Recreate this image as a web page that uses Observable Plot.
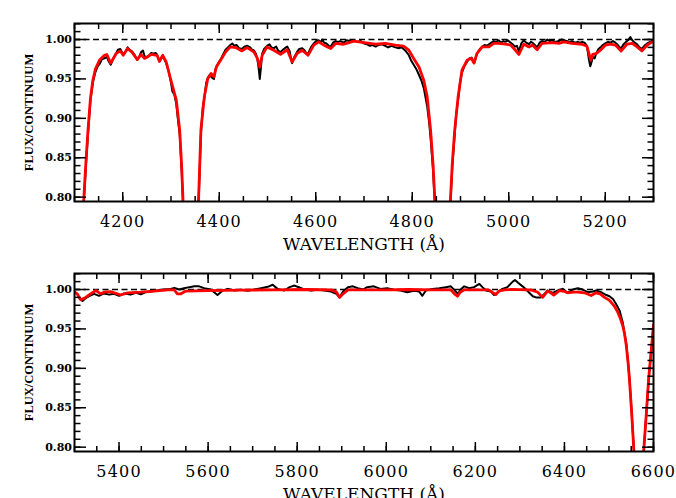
<!DOCTYPE html>
<html><head><meta charset="utf-8">
<script src="https://cdn.jsdelivr.net/npm/d3@7"></script>
<script src="https://cdn.jsdelivr.net/npm/@observablehq/plot@0.6"></script>
<style>
body{margin:0;background:#fff}
#chart svg{display:block;overflow:visible}
#chart g[aria-label="x-axis tick label"] text{letter-spacing:1.2px}
</style>
</head><body><div id="chart"></div>
<script>
// ---- Panel 1 (4100-5300 Å): model (red) and observed (black) as [wavelength, flux]
const topModel = [
[4100,0.58],[4108,0.67],[4114,0.74],[4119,0.795],[4124,0.848],[4128,0.885],[4133,0.925],[4138,0.948],[4143,0.962],[4152,0.974],[4162,0.980],[4167,0.981],[4175,0.970],[4186,0.982],[4195,0.9855],[4201,0.980],[4210,0.9886],[4219,0.984],[4230,0.9746],[4238,0.981],[4245,0.976],[4259,0.981],[4271,0.980],[4276,0.9724],[4283,0.980],[4290,0.9715],[4300,0.948],[4311,0.923],[4318,0.885],[4322,0.84],[4325,0.795],[4330,0.72],[4340,0.62],[4350,0.72],[4357,0.795],[4362,0.885],[4369,0.927],[4376,0.950],[4383,0.957],[4389,0.9525],[4394,0.965],[4404,0.975],[4413,0.984],[4423,0.9906],[4434,0.9898],[4447,0.9855],[4458,0.9898],[4472,0.984],[4479,0.976],[4484,0.965],[4489,0.980],[4499,0.9906],[4513,0.9864],[4527,0.9813],[4541,0.987],[4551,0.9715],[4561,0.982],[4572,0.9864],[4584,0.980],[4596,0.9928],[4606,0.997],[4617,0.9928],[4631,0.9886],[4641,0.995],[4658,0.994],[4679,0.998],[4700,0.996],[4724,0.994],[4744,0.995],[4765,0.9928],[4782,0.9915],[4793,0.9864],[4803,0.976],[4814,0.965],[4824,0.948],[4831,0.927],[4838,0.885],[4843,0.843],[4847,0.795],[4855,0.68],[4862,0.60],[4870,0.68],[4879,0.795],[4883,0.843],[4888,0.885],[4895,0.927],[4903,0.961],[4914,0.974],[4923,0.976],[4928,0.970],[4934,0.982],[4945,0.9906],[4959,0.9906],[4969,0.995],[4979,0.995],[4993,0.994],[5004,0.993],[5013,0.987],[5021,0.981],[5031,0.994],[5042,0.9906],[5049,0.993],[5059,0.987],[5069,0.995],[5090,0.996],[5104,0.995],[5114,0.997],[5131,0.995],[5152,0.994],[5162,0.9915],[5170,0.9737],[5174,0.981],[5181,0.982],[5190,0.9864],[5200,0.9928],[5211,0.994],[5221,0.993],[5233,0.9855],[5245,0.994],[5256,0.995],[5266,0.9906],[5276,0.9855],[5287,0.993],[5300,0.998]
];
const topObs = [
[4100,0.57],[4108,0.66],[4114,0.735],[4119,0.79],[4124,0.843],[4128,0.88],[4133,0.922],[4138,0.945],[4143,0.958],[4148,0.966],[4152,0.969],[4157,0.975],[4162,0.976],[4167,0.978],[4171,0.972],[4175,0.968],[4180,0.975],[4186,0.982],[4190,0.987],[4195,0.988],[4199,0.983],[4203,0.982],[4207,0.986],[4210,0.990],[4214,0.987],[4219,0.985],[4224,0.981],[4230,0.974],[4234,0.978],[4238,0.984],[4242,0.986],[4245,0.979],[4250,0.977],[4255,0.980],[4259,0.983],[4264,0.982],[4268,0.983],[4271,0.981],[4276,0.972],[4280,0.976],[4283,0.979],[4287,0.974],[4290,0.970],[4295,0.960],[4300,0.945],[4303,0.934],[4307,0.930],[4311,0.918],[4315,0.895],[4318,0.88],[4322,0.835],[4325,0.79],[4330,0.71],[4340,0.61],[4350,0.71],[4357,0.79],[4362,0.88],[4366,0.915],[4369,0.925],[4373,0.945],[4376,0.951],[4380,0.955],[4383,0.953],[4386,0.951],[4389,0.950],[4392,0.962],[4396,0.968],[4400,0.972],[4404,0.976],[4408,0.981],[4413,0.987],[4418,0.990],[4423,0.993],[4427,0.995],[4431,0.992],[4436,0.993],[4441,0.989],[4447,0.988],[4452,0.991],[4458,0.992],[4464,0.990],[4468,0.987],[4472,0.986],[4476,0.982],[4479,0.975],[4482,0.962],[4484,0.950],[4486,0.962],[4489,0.982],[4493,0.988],[4499,0.992],[4504,0.994],[4508,0.990],[4513,0.989],[4518,0.991],[4522,0.986],[4527,0.984],[4532,0.987],[4536,0.989],[4541,0.991],[4546,0.985],[4549,0.975],[4551,0.970],[4555,0.977],[4561,0.984],[4566,0.988],[4572,0.989],[4577,0.986],[4580,0.983],[4584,0.982],[4590,0.990],[4596,0.995],[4601,0.998],[4606,0.999],[4611,0.997],[4614,1.000],[4617,0.996],[4622,0.995],[4627,0.992],[4631,0.991],[4636,0.996],[4641,0.998],[4646,0.997],[4651,0.998],[4658,0.996],[4664,0.999],[4670,0.998],[4679,0.999],[4686,0.997],[4693,0.998],[4700,0.995],[4706,0.994],[4712,0.992],[4718,0.993],[4724,0.991],[4730,0.993],[4737,0.994],[4744,0.992],[4750,0.990],[4757,0.992],[4765,0.990],[4772,0.989],[4778,0.990],[4782,0.988],[4787,0.985],[4793,0.980],[4798,0.973],[4803,0.968],[4808,0.963],[4814,0.955],[4819,0.948],[4824,0.938],[4828,0.925],[4831,0.915],[4835,0.895],[4838,0.875],[4843,0.835],[4847,0.79],[4855,0.67],[4862,0.59],[4870,0.67],[4879,0.79],[4883,0.838],[4888,0.880],[4891,0.905],[4895,0.923],[4899,0.945],[4903,0.958],[4908,0.966],[4914,0.972],[4918,0.976],[4923,0.977],[4926,0.972],[4929,0.971],[4934,0.982],[4939,0.987],[4945,0.991],[4950,0.993],[4955,0.992],[4959,0.994],[4964,0.996],[4969,0.998],[4974,0.997],[4979,0.999],[4984,0.996],[4989,0.998],[4993,0.997],[4998,0.999],[5004,0.996],[5008,0.994],[5013,0.991],[5017,0.992],[5021,0.985],[5026,0.995],[5031,0.999],[5036,0.996],[5042,0.994],[5046,0.997],[5049,0.996],[5054,0.993],[5059,0.990],[5064,0.996],[5069,0.998],[5075,0.997],[5080,1.000],[5085,0.998],[5090,0.999],[5096,0.997],[5104,0.998],[5109,1.000],[5114,0.999],[5120,0.998],[5126,0.997],[5131,0.998],[5137,0.996],[5143,0.997],[5148,0.996],[5152,0.997],[5157,0.996],[5162,0.992],[5166,0.975],[5169,0.966],[5172,0.972],[5174,0.978],[5178,0.976],[5181,0.982],[5186,0.988],[5190,0.990],[5195,0.993],[5200,0.995],[5206,0.997],[5211,0.996],[5216,0.998],[5221,0.996],[5226,0.993],[5230,0.990],[5233,0.989],[5238,0.994],[5243,0.997],[5247,0.999],[5252,1.003],[5256,0.999],[5261,0.996],[5266,0.994],[5271,0.990],[5276,0.988],[5281,0.992],[5287,0.995],[5293,0.997],[5300,0.999]
];
// ---- Panel 2 (5300-6600 Å)
const botModel = [
[5299,0.9974],[5306,0.9945],[5314,0.987],[5325,0.990],[5336,0.9945],[5348,0.9987],[5359,0.9945],[5366,0.9966],[5381,0.9974],[5404,0.993],[5419,0.9958],[5449,0.9966],[5479,0.998],[5509,0.9996],[5524,0.9996],[5531,0.9945],[5539,0.9945],[5550,0.998],[5599,0.9987],[5674,0.9992],[5749,0.9996],[5824,1.000],[5876,0.9996],[5888,0.997],[5895,0.990],[5903,0.9945],[5914,0.9996],[5950,0.9995],[6000,0.9995],[6050,1.000],[6100,0.9996],[6145,0.9996],[6153,0.9945],[6160,0.9915],[6166,0.9966],[6175,0.9996],[6200,0.9996],[6230,0.9996],[6240,0.9958],[6246,0.9936],[6253,0.998],[6265,0.9996],[6280,1.000],[6300,0.9998],[6325,0.9994],[6340,0.9966],[6351,0.990],[6362,0.998],[6370,0.9955],[6376,0.993],[6389,0.9987],[6400,0.9975],[6407,0.9958],[6420,0.9966],[6430,0.9966],[6445,0.9958],[6460,0.9923],[6471,0.9958],[6480,0.9945],[6490,0.990],[6500,0.9868],[6505,0.9838],[6512,0.979],[6520,0.971],[6526,0.9626],[6531,0.954],[6535,0.9435],[6539,0.9286],[6543,0.907],[6546,0.886],[6551,0.8436],[6556,0.795],[6562,0.70],[6567,0.68],[6572,0.72],[6578,0.795],[6584,0.8436],[6589,0.886],[6596,0.929],[6600,0.955]
];
const botObs = [
[5299,0.9966],[5306,0.9945],[5312,0.988],[5318,0.9855],[5325,0.989],[5333,0.9915],[5344,0.9945],[5355,0.992],[5366,0.995],[5378,0.9935],[5389,0.9945],[5400,0.992],[5411,0.995],[5426,0.9935],[5438,0.9958],[5449,0.994],[5460,0.9966],[5471,0.9975],[5486,0.9987],[5501,1.000],[5516,1.0008],[5524,1.002],[5535,1.000],[5546,1.0017],[5558,1.003],[5569,1.004],[5580,1.004],[5591,1.0017],[5606,1.000],[5621,0.993],[5633,0.9987],[5644,1.0008],[5659,0.9987],[5674,0.9996],[5689,0.9983],[5704,1.000],[5719,1.0017],[5734,1.0034],[5745,1.006],[5756,1.0008],[5771,0.9987],[5783,1.003],[5794,1.005],[5805,1.0025],[5816,1.000],[5831,0.9987],[5846,0.9996],[5861,0.9987],[5876,0.9974],[5888,0.9945],[5895,0.990],[5903,0.9974],[5914,1.003],[5925,1.004],[5936,1.0017],[5948,1.000],[5957,1.003],[5972,1.004],[5987,1.0008],[6002,1.0017],[6017,0.9996],[6032,0.9987],[6047,0.9966],[6062,0.9983],[6074,0.9974],[6081,0.992],[6089,0.9987],[6104,1.0008],[6119,1.0017],[6134,1.003],[6145,1.004],[6156,0.9974],[6161,0.9945],[6167,1.000],[6175,1.004],[6186,1.0017],[6197,1.003],[6209,1.007],[6216,1.003],[6224,0.9987],[6235,0.9974],[6242,0.993],[6250,0.9966],[6261,1.0008],[6272,1.003],[6284,1.010],[6289,1.012],[6296,1.0085],[6306,1.004],[6314,1.000],[6321,0.9958],[6329,0.9915],[6336,0.990],[6347,0.990],[6355,0.9945],[6362,0.9987],[6374,0.9958],[6385,0.9987],[6396,1.0008],[6407,0.9958],[6419,1.000],[6430,1.0017],[6441,1.000],[6452,0.9966],[6464,0.9974],[6471,0.9987],[6482,0.9966],[6494,0.993],[6501,0.9915],[6509,0.988],[6516,0.9817],[6524,0.973],[6531,0.958],[6539,0.931],[6546,0.888],[6551,0.8436],[6556,0.795],[6562,0.70],[6567,0.68],[6572,0.72],[6578,0.795],[6584,0.8436],[6589,0.886],[6596,0.929],[6600,0.955]
];
const topXLabels = [4200, 4400, 4600, 4800, 5000, 5200];
const botXLabels = [5400, 5600, 5800, 6000, 6200, 6400, 6600];
const yLabels = [0.80, 0.85, 0.90, 0.95, 1.00];
const xTitle = "WAVELENGTH (Å)";
const yTitle = "FLUX/CONTINUUM";

const serif = "'DejaVu Serif', serif";
const yMinor = d3.range(80, 103).map(d => d / 100);

function panel({obs, model, xDomain, xLabels, height, marginBottom}) {
  const xMinor = d3.range(xDomain[0], xDomain[1] + 1, 50);
  const noText = {tickFormat: () => "", label: null};
  return Plot.plot({
    width: 676, height,
    marginLeft: 74, marginRight: 23, marginTop: 23, marginBottom,
    x: {domain: xDomain},
    y: {domain: [0.7945, 1.0203]},
    marks: [
      Plot.ruleY([1], {stroke: "black", strokeWidth: 1.3, strokeDasharray: "6,3.5"}),
      Plot.line(obs, {x: d => d[0], y: d => d[1], stroke: "black", strokeWidth: 2, clip: true}),
      Plot.line(model, {x: d => d[0], y: d => d[1], stroke: "#ff0000", strokeWidth: 2.8, clip: true}),
      // inward ticks
      Plot.axisX({anchor: "bottom", ticks: xMinor, tickSize: 5, dy: -5, strokeWidth: 1.5, ...noText}),
      Plot.axisX({anchor: "bottom", ticks: xLabels, tickSize: 9, dy: -9, strokeWidth: 1.5, ...noText}),
      Plot.axisX({anchor: "top", ticks: xMinor, tickSize: 5, dy: 5, strokeWidth: 1.5, ...noText}),
      Plot.axisX({anchor: "top", ticks: xLabels, tickSize: 9, dy: 9, strokeWidth: 1.5, ...noText}),
      Plot.axisY({anchor: "left", ticks: yMinor, tickSize: 6.5, dx: 6.5, strokeWidth: 1.5, ...noText}),
      Plot.axisY({anchor: "left", ticks: yLabels, tickSize: 12, dx: 12, strokeWidth: 1.5, ...noText}),
      Plot.axisY({anchor: "right", ticks: yMinor, tickSize: 6.5, dx: -6.5, strokeWidth: 1.5, ...noText}),
      Plot.axisY({anchor: "right", ticks: yLabels, tickSize: 12, dx: -12, strokeWidth: 1.5, ...noText}),
      // tick labels
      Plot.axisX({anchor: "bottom", ticks: xLabels, tickSize: 0, tickPadding: 14, tickFormat: d => String(d), label: null,
                  fontSize: 16, fontFamily: serif, fill: "black"}),
      Plot.axisY({anchor: "left", ticks: yLabels, tickSize: 0, tickPadding: 2.5, tickFormat: d3.format(".2f"), label: null,
                  fontSize: 11, fontWeight: "bold", fontFamily: serif, fill: "black"}),
      Plot.frame({stroke: "black", strokeWidth: 2}),
      Plot.text([xTitle], {text: d => d, frameAnchor: "bottom", dy: 48, lineAnchor: "bottom", textAnchor: "middle",
                           fontSize: 17, fontFamily: serif, fill: "black"}),
      Plot.text([yTitle], {text: d => d, frameAnchor: "left", dx: -46, rotate: -90, textAnchor: "middle", lineAnchor: "middle",
                           fontSize: 12.5, fontWeight: "bold", fontFamily: "'Liberation Serif', serif", fill: "black"})
    ]
  });
}

const chart = document.getElementById("chart");
chart.append(panel({obs: topObs, model: topModel, xDomain: [4100, 5300], xLabels: topXLabels, height: 250, marginBottom: 49}));
chart.append(panel({obs: botObs, model: botModel, xDomain: [5300, 6600], xLabels: botXLabels, height: 248, marginBottom: 47}));
</script>
</body></html>
